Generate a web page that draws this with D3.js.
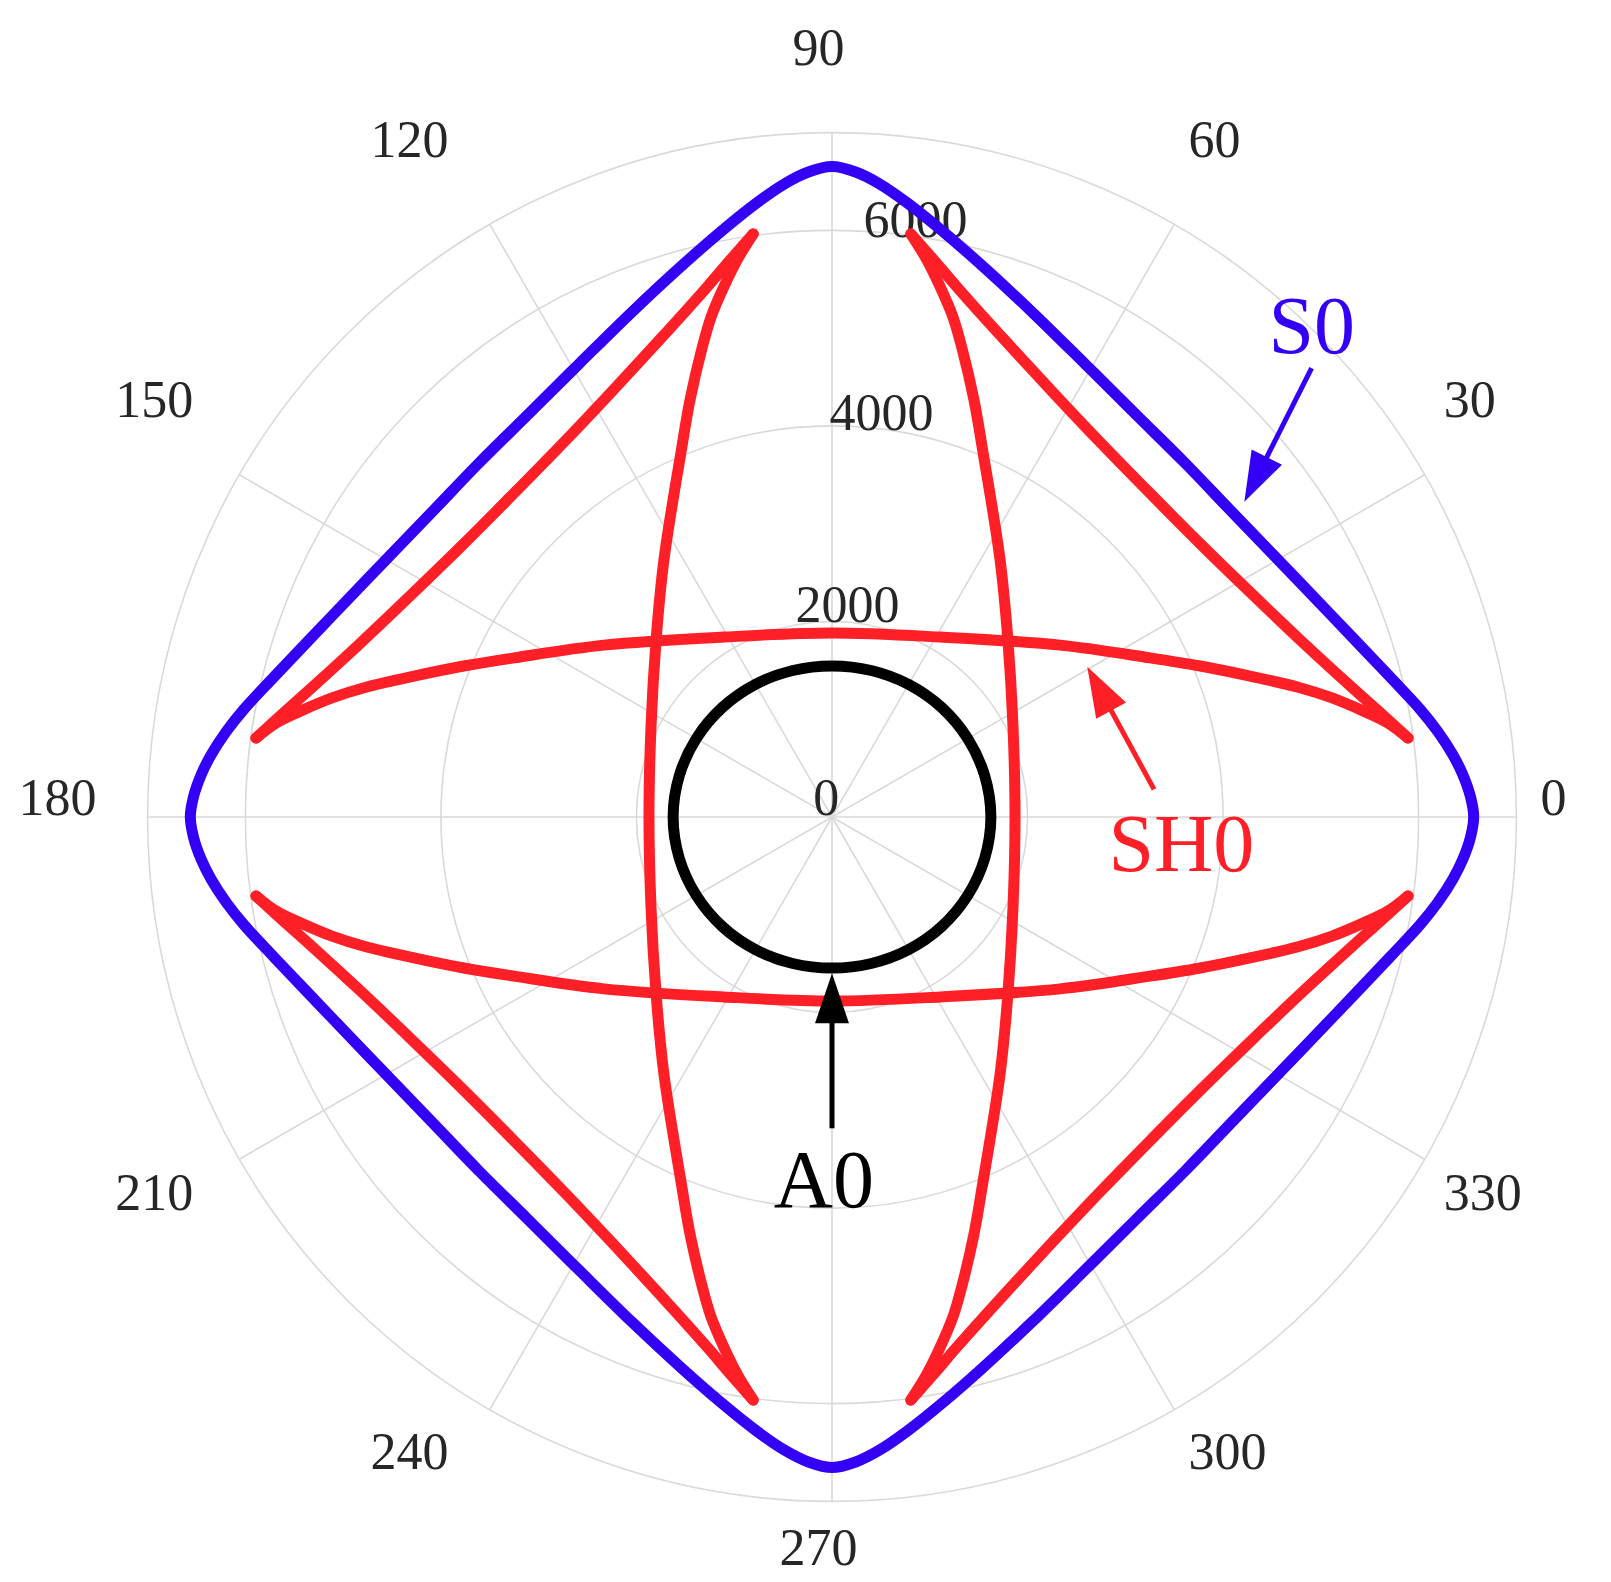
<!DOCTYPE html>
<html><head><meta charset="utf-8">
<script src="https://cdn.jsdelivr.net/npm/d3@7"></script>
<style>html,body{margin:0;padding:0;background:#fff;} svg{display:block}</style>
</head><body>
<svg id="chart" width="1611" height="1582"></svg>
<script>
// ---------------- data ----------------
const angleTicks = [0, 30, 60, 90, 120, 150, 180, 210, 240, 270, 300, 330];
const radialTicks = [0, 2000, 4000, 6000];
const radialMax = 7000;

// S0 mode (blue): angle (deg), value
const s0Angles = [0,1.8,3.8,5.7,8.0,10.4,14.1,21.9,29.4,37.3,45,52.8,60.8,68.4,74.8,79.4,83.0,85.7,87.9,90,
  92.1,94.3,97.0,100.6,105.2,111.6,119.2,127.2,135,142.7,150.6,158.1,165.9,169.6,172.0,174.3,176.2,178.2,180,
  181.8,183.8,185.7,188.0,190.4,194.1,201.9,209.4,217.3,225,232.8,240.8,248.4,254.8,259.4,263.0,265.7,267.9,270,
  272.1,274.3,277.0,280.6,285.2,291.6,299.2,307.2,315,322.7,330.6,338.1,345.9,349.6,352.0,354.3,356.2,358.2];
const s0Values = [6563,6534,6468,6383,6259,6114,5884,5512,5280,5145,5113,5157,5307,5556,5846,6103,6327,6493,6601,6653,
  6601,6493,6327,6103,5846,5556,5307,5157,5113,5145,5280,5512,5884,6114,6259,6383,6468,6534,6563,
  6534,6468,6383,6259,6114,5884,5512,5280,5145,5113,5157,5307,5556,5846,6103,6327,6493,6601,6653,
  6601,6493,6327,6103,5846,5556,5307,5157,5113,5145,5280,5512,5884,6114,6259,6383,6468,6534];

// A0 mode (black)
const a0Angles = [0,15,30,45,60,75,90,105,120,135,150,165,180,195,210,225,240,255,270,285,300,315,330,345];
const a0Values = [1625,1618,1603,1585,1566,1551,1545,1551,1566,1585,1603,1618,1625,1618,1603,1585,1566,1551,1545,1551,1566,1585,1603,1618];

// SH0 mode (red): branches between cusps, [angle, value]
const sh0UpperLobe = [[7.8,5947],[9.6,5767],[11.3,5539],[13.4,5257],[15.5,4957],[18.7,4502],[22.4,4059],[26.6,3636],[37.0,2921],[59.0,2147],[90,1882],
  [121.0,2147],[143.0,2921],[153.4,3636],[157.6,4059],[161.3,4502],[164.5,4957],[166.6,5257],[168.7,5539],[170.4,5767],[172.2,5947]];
const sh0LowerLobe = [[187.8,5947],[189.6,5767],[191.3,5539],[193.4,5257],[195.5,4957],[198.7,4502],[202.4,4059],[206.6,3636],[217.0,2921],[239.0,2147],[270,1882],
  [301.0,2147],[323.0,2921],[333.4,3636],[337.6,4059],[341.3,4502],[344.5,4957],[346.6,5257],[348.7,5539],[350.4,5767],[352.2,5947]];
const sh0RightLobe = [[82.3,6018],[80.4,5788],[78.6,5552],[76.4,5261],[74.4,4960],[71.2,4506],[67.7,4059],[56.8,3140],[45.2,2553],[26.4,2067],[0,1872],
  [-26.4,2067],[-45.2,2553],[-56.8,3140],[-67.7,4059],[-71.2,4506],[-74.4,4960],[-76.4,5261],[-78.6,5552],[-80.4,5788],[-82.3,6018]];
const sh0LeftLobe = [[97.7,6018],[99.6,5788],[101.4,5552],[103.6,5261],[105.6,4960],[108.8,4506],[112.3,4059],[123.2,3140],[134.8,2553],[153.6,2067],[180,1872],
  [206.4,2067],[225.2,2553],[236.8,3140],[247.7,4059],[251.2,4506],[254.4,4960],[256.4,5261],[258.6,5552],[260.4,5788],[262.3,6018]];
const sh0DiagQ1 = [[7.8,5947],[10.6,5721],[13.6,5506],[20.3,5138],[28.0,4862],[36.4,4692],[45.3,4641],[54.2,4710],[62.5,4896],[70.1,5188],[76.7,5567],[79.6,5788],[82.3,6018]];
const sh0DiagQ2 = [[97.7,6018],[100.4,5788],[103.3,5567],[109.9,5188],[117.5,4896],[125.8,4710],[134.7,4641],[143.6,4692],[152.0,4862],[159.7,5138],[166.4,5506],[169.4,5721],[172.2,5947]];
const sh0DiagQ3 = [[187.8,5947],[190.6,5721],[193.6,5506],[200.3,5138],[208.0,4862],[216.4,4692],[225.3,4641],[234.2,4710],[242.5,4896],[250.1,5188],[256.7,5567],[259.6,5788],[262.3,6018]];
const sh0DiagQ4 = [[277.7,6018],[280.4,5788],[283.3,5567],[289.9,5188],[297.5,4896],[305.8,4710],[314.7,4641],[323.6,4692],[332.0,4862],[339.7,5138],[346.4,5506],[349.4,5721],[352.2,5947]];

// annotations (angle, value) for arrow tail, arrow tip and label baseline
const annotationLabels = ["S0", "SH0", "A0"];
const annotationTails = [[43.1, 6718], [4.9, 3306], [270, 3184]];
const annotationTips = [[37.4, 5309], [30.5, 3030], [270, 1599]];
const annotationText = [[44.05, 6828], [-8.74, 3615], [268.8, 3987]];

// ---------------- drawing ----------------
const BLUE = "#3300f5", RED = "#ff1f26", BLACK = "#000000", GRID = "#d9d9d9", TXT = "#262626";
const FONT = "'Liberation Serif','Times New Roman',serif";
const cx = 832, cy = 817, outerR = 684.4;

const svg = d3.select("#chart");
const g = svg.append("g").attr("transform", `translate(${cx},${cy})`);

const rScale = d3.scaleLinear().domain([0, radialMax]).range([0, outerR]);
// d3 radial angle: 0 at 12 o'clock clockwise; chart: 0 at 3 o'clock counterclockwise
const aScale = d3.scaleLinear().domain([0, 360]).range([Math.PI / 2, Math.PI / 2 - 2 * Math.PI]);
const toXY = (deg, v) => {
  const t = deg * Math.PI / 180;
  return [rScale(v) * Math.cos(t), -rScale(v) * Math.sin(t)];
};

// grid circles
g.selectAll("circle.grid").data(radialTicks.filter(d => d > 0).concat([radialMax]))
  .join("circle").attr("class", "grid")
  .attr("r", d => rScale(d)).attr("fill", "none")
  .attr("stroke", GRID).attr("stroke-width", 1.6);
// spokes
g.selectAll("line.spoke").data(angleTicks).join("line").attr("class", "spoke")
  .attr("x1", 0).attr("y1", 0)
  .attr("x2", d => toXY(d, radialMax)[0]).attr("y2", d => toXY(d, radialMax)[1])
  .attr("stroke", GRID).attr("stroke-width", 1.6);

// angular tick labels
const ALFS = 52;
const aLab = g.selectAll("text.alab").data(angleTicks).join("text").attr("class", "alab")
  .text(d => d).attr("font-family", FONT).attr("font-size", ALFS).attr("fill", TXT)
  .attr("text-anchor", "middle");
aLab.each(function (d) {
  const w = this.getComputedTextLength();
  const t = d * Math.PI / 180;
  const c = Math.cos(t), s = Math.sin(t);
  const sc = Math.abs(c) < 1e-6 ? 0 : Math.sign(c);
  const ss = Math.abs(s) < 1e-6 ? 0 : Math.sign(s);
  const rx = Math.abs(c) > 0.7 ? 722 : 740;
  const x = rx * c + sc * w / 2 - 13.4;
  const yUp = 710 * s + ss * 40 + 20 + (ss > 0 && sc !== 0 ? 3 : 0);
  d3.select(this).attr("x", x).attr("y", -yUp + 0.338 * ALFS);
});

// radial tick labels (placed along 80 deg)
const rLab = g.selectAll("text.rlab").data(radialTicks).join("text").attr("class", "rlab")
  .text(d => d).attr("font-family", FONT).attr("font-size", ALFS).attr("fill", TXT)
  .attr("text-anchor", "middle");
rLab.each(function (d) {
  const w = this.getComputedTextLength();
  const t = 80 * Math.PI / 180;
  const x = rScale(d) * Math.cos(t) - 1.5 - 0.163 * w;
  const y = -(rScale(d) * Math.sin(t) + 2);
  d3.select(this).attr("x", x).attr("y", y);
});

// A0
g.append("path").datum(a0Angles.map((a, i) => [a, a0Values[i]]))
  .attr("d", d3.lineRadial().angle(d => aScale(d[0])).radius(d => rScale(d[1])).curve(d3.curveCatmullRomClosed.alpha(0.5)))
  .attr("fill", "none").attr("stroke", BLACK).attr("stroke-width", 11);

// SH0
const sh0Branches = [sh0UpperLobe, sh0LowerLobe, sh0RightLobe, sh0LeftLobe, sh0DiagQ1, sh0DiagQ2, sh0DiagQ3, sh0DiagQ4];
const openLine = d3.lineRadial().angle(d => aScale(d[0])).radius(d => rScale(d[1])).curve(d3.curveCatmullRom.alpha(0.5));
g.selectAll("path.sh0").data(sh0Branches).join("path").attr("class", "sh0")
  .attr("d", openLine).attr("fill", "none").attr("stroke", RED)
  .attr("stroke-width", 11).attr("stroke-linecap", "round").attr("stroke-linejoin", "round");

// S0
g.append("path").datum(s0Angles.map((a, i) => [a, s0Values[i]]))
  .attr("d", d3.lineRadial().angle(d => aScale(d[0])).radius(d => rScale(d[1])).curve(d3.curveCatmullRomClosed.alpha(0.5)))
  .attr("fill", "none").attr("stroke", BLUE).attr("stroke-width", 11).attr("stroke-linejoin", "round");

// annotations
const annColors = [BLUE, RED, BLACK];
annotationLabels.forEach((lab, i) => {
  const [x0, y0] = toXY(...annotationTails[i]);
  const [x1, y1] = toXY(...annotationTips[i]);
  const len = Math.hypot(x1 - x0, y1 - y0);
  const ux = (x1 - x0) / len, uy = (y1 - y0) / len;
  const headL = 50, headW = 17;
  const bx = x1 - ux * headL, by = y1 - uy * headL;
  g.append("line").attr("x1", x0).attr("y1", y0)
    .attr("x2", x1 - ux * (headL - 8)).attr("y2", y1 - uy * (headL - 8))
    .attr("stroke", annColors[i]).attr("stroke-width", 5);
  g.append("path")
    .attr("d", `M${x1},${y1}L${bx - uy * headW},${by + ux * headW}L${bx + uy * headW},${by - ux * headW}Z`)
    .attr("fill", annColors[i]);
  const [tx, ty] = toXY(...annotationText[i]);
  g.append("text").attr("x", tx).attr("y", ty).text(lab)
    .attr("font-family", FONT).attr("font-size", 82).attr("fill", annColors[i])
    .attr("text-anchor", "middle");
});
</script>
</body></html>
